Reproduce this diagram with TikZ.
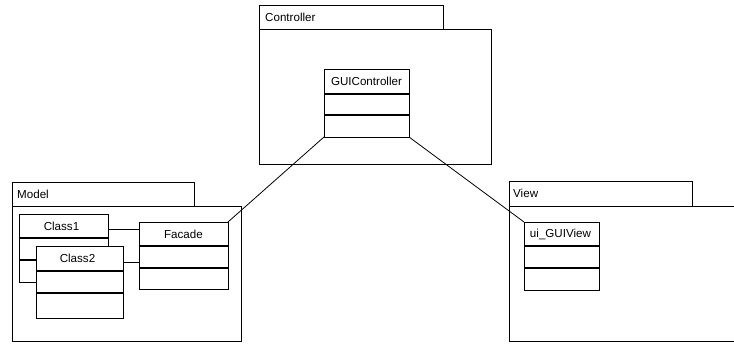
\documentclass[tikz,border=0pt]{standalone}
\usepackage{fontspec}
\setmainfont{Liberation Sans}
\usetikzlibrary{positioning,calc}
\tikzset{
  outline/.style={draw=black, line width=0.8pt, fill=white, inner sep=0pt, outer sep=0pt, anchor=north west},
  divider/.style={draw=black, line width=1.2pt},
  lbl/.style={font=\fontsize{11.6}{13}\selectfont, inner sep=0pt},
  link/.style={draw=black, line width=0.8pt},
}
\begin{document}
\begin{tikzpicture}[x=1pt, y=-1pt]
\useasboundingbox (0,0) rectangle (734,343);
\clip (0,0) rectangle (734,343);

% ---- Controller package ----
\node[outline, minimum width=184pt, minimum height=24pt] (ctab) at (259,5) {};
\node[outline, minimum width=232pt, minimum height=135pt] (cbody) at (259,29) {};
\node[lbl, anchor=west] (ctext) at ($(ctab.west)+(6,0)$) {Controller};

\node[outline, minimum width=85pt, minimum height=68pt] (gui) at (324,69) {};
\node[lbl] (guitext) at ($(gui.north)+(0,12.5)$) {GUIController};
\draw[divider] ([yshift=-25pt]gui.north west) -- ([yshift=-25pt]gui.north east);
\draw[divider] ([yshift=-46pt]gui.north west) -- ([yshift=-46pt]gui.north east);

% ---- Model package ----
\node[outline, minimum width=182pt, minimum height=24pt] (mtab) at (12,182) {};
\node[outline, minimum width=229pt, minimum height=135pt] (mbody) at (12,206) {};
\node[lbl, anchor=west] (mtext) at ($(mtab.west)+(5,0)$) {Model};

\node[outline, minimum width=89pt, minimum height=68pt] (c1) at (19,214) {};
\node[lbl] (c1text) at ($(c1.north)+(-2,12)$) {Class1};
\draw[divider] ([yshift=-24pt]c1.north west) -- ([yshift=-24pt]c1.north east);
\draw[divider] ([yshift=-46pt]c1.north west) -- ([yshift=-46pt]c1.north east);

\node[outline, minimum width=87pt, minimum height=72pt] (c2) at (36,246) {};
\node[lbl] (c2text) at ($(c2.north)+(-2,12)$) {Class2};
\draw[divider] ([yshift=-25pt]c2.north west) -- ([yshift=-25pt]c2.north east);
\draw[divider] ([yshift=-47pt]c2.north west) -- ([yshift=-47pt]c2.north east);

\node[outline, minimum width=89pt, minimum height=67pt] (facade) at (139,222) {};
\node[lbl] (ftext) at ($(facade.north)+(0,12)$) {Facade};
\draw[divider] ([yshift=-24pt]facade.north west) -- ([yshift=-24pt]facade.north east);
\draw[divider] ([yshift=-46pt]facade.north west) -- ([yshift=-46pt]facade.north east);

% ---- View package (its body runs on past the right border) ----
\node[outline, minimum width=183pt, minimum height=25pt] (vtab) at (509,181) {};
\node[outline, draw=none, minimum width=260pt, minimum height=135pt] (vbody) at (509,206) {};
\draw[line width=0.8pt] (vbody.north east) -- (vbody.north west) -- (vbody.south west) -- (vbody.south east);
\node[lbl, anchor=west] (vtext) at ($(vtab.west)+(4,0)$) {View};

\node[outline, minimum width=75pt, minimum height=68pt] (view) at (524,222) {};
\node[lbl] (vvtext) at ($(view.north)+(-1,12)$) {ui\_GUIView};
\draw[divider] ([yshift=-24pt]view.north west) -- ([yshift=-24pt]view.north east);
\draw[divider] ([yshift=-46pt]view.north west) -- ([yshift=-46pt]view.north east);

% ---- connectors ----
\draw[link] ([yshift=-15pt]c1.north east) -- ([yshift=-15pt]c1.north east -| facade.west);
\draw[link] ([yshift=-16pt]c2.north east) -- ([yshift=-16pt]c2.north east -| facade.west);
\draw[link] (gui.south west) -- (facade.north east);
\draw[link] (gui.south east) -- (view.north west);
\end{tikzpicture}
\end{document}
